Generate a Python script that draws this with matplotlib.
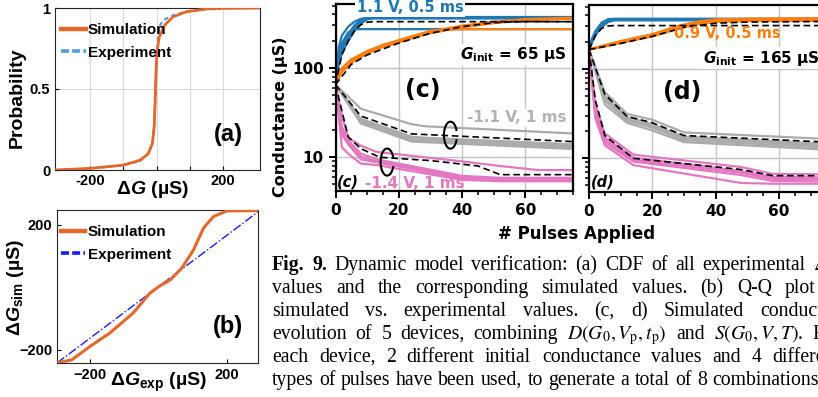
import matplotlib
matplotlib.use("Agg")
import matplotlib.pyplot as plt
from matplotlib.patches import Arc
from matplotlib.lines import Line2D
from matplotlib.ticker import MultipleLocator, LogLocator, NullFormatter, FixedLocator

# ---- (a) CDF of conductance changes ----
cdf_dg_sim = [-305, -200, -100, -50, -25, -12, -7, -4, -2, 1, 8, 25, 50, 90, 150, 210, 311]
cdf_p_sim = [0, 0.01, 0.03, 0.06, 0.10, 0.165, 0.27, 0.43, 0.58, 0.72, 0.82, 0.895, 0.946, 0.977, 0.994, 0.998, 1.0]
cdf_dg_exp = [-305, -200, -100, -50, -25, -12, -6, -3, -1, 2, 6, 12, 25, 50, 90, 150, 210, 311]
cdf_p_exp = [0, 0.008, 0.03, 0.055, 0.10, 0.17, 0.30, 0.45, 0.60, 0.75, 0.85, 0.90, 0.93, 0.955, 0.978, 0.994, 0.999, 1.0]

# ---- (b) Q-Q plot ----
qq_exp = [-296, -253, -200, -142, -74, -25, 4, 34, 68, 102, 131, 160, 199, 287]
qq_sim = [-242, -232, -189, -146, -82, -18, 5, 24, 62, 120, 190, 227, 245, 246]
ref_x = [-296, 290]
ref_y = [-242, 242]

# ---- (c) G_init = 65 uS ----
c_blue_x = [0, 1, 2, 4, 6, 8, 10, 12, 75]
c_blue_sim = [
    [65, 170, 230, 290, 330, 355, 365, 368, 368],
    [65, 120, 160, 220, 280, 330, 360, 365, 365],
    [65, 110, 145, 200, 260, 315, 350, 358, 358],
    [65, 140, 190, 250, 272, 272, 272, 272, 272],
    [65, 130, 175, 240, 300, 345, 370, 372, 372],
]
c_blue_exp_x = [0, 2, 4, 6, 8, 10, 12, 75]
c_blue_exp = [65, 140, 200, 260, 305, 325, 330, 330]

c_orange_x = [0, 2, 5, 10, 15, 20, 25, 30, 40, 50, 60, 75]
c_orange_sim = [
    [65, 100, 125, 155, 182, 205, 232, 257, 298, 330, 352, 365],
    [65, 95, 120, 150, 177, 198, 225, 250, 291, 323, 347, 361],
    [65, 90, 115, 145, 172, 193, 220, 245, 285, 318, 342, 358],
    [65, 98, 122, 152, 178, 200, 228, 262, 272, 272, 272, 272],
    [65, 93, 118, 148, 175, 196, 223, 248, 288, 320, 345, 360],
]
c_orange_exp_x = [0, 5, 10, 20, 30, 40, 50, 60, 75]
c_orange_exp = [65, 110, 140, 190, 245, 290, 322, 330, 330]

c_gray_x = [0, 8, 24, 28, 75]
c_gray_sim = [
    [65, 35, 23.5, 22.3, 18.5],
    [65, 27, 17.0, 16.6, 14.0],
    [65, 26, 16.3, 16.0, 13.4],
    [65, 25, 15.6, 15.3, 12.9],
    [65, 24, 15.0, 14.8, 12.4],
]
c_gray_exp_x = [0, 8, 24, 75]
c_gray_exp = [65, 29, 18.3, 15.0]

c_pink_x = [0, 2, 4, 8, 13, 40, 52, 64, 75]
c_pink_sim = [
    [65, 30, 16.5, 13.5, 11.5, 9.0, 8.0, 7.2, 7.2],
    [65, 22, 15.5, 11.0, 9.5, 6.2, 5.9, 5.9, 5.9],
    [65, 20, 14.5, 10.2, 9.0, 6.0, 5.7, 5.7, 5.7],
    [65, 18, 14.0, 9.5, 8.8, 5.8, 5.5, 5.5, 5.5],
    [65, 13, 11.0, 8.5, 8.2, 5.6, 5.4, 5.4, 5.4],
]
c_pink_exp_x = [0, 4, 8, 14, 30, 45, 52, 75]
c_pink_exp = [65, 17, 12.5, 10, 9.2, 8.0, 6.4, 6.4]

# ---- (d) G_init = 165 uS ----
d_blue_x = [0, 1, 2, 4, 6, 8, 75]
d_blue_sim = [
    [165, 220, 265, 330, 360, 365, 365],
    [165, 210, 250, 310, 350, 360, 360],
    [165, 205, 245, 300, 340, 355, 355],
    [165, 215, 255, 320, 352, 358, 358],
    [165, 200, 240, 295, 335, 350, 350],
]
d_blue_exp_x = [0, 2, 4, 6, 8, 75]
d_blue_exp = [165, 235, 285, 303, 306, 306]

d_orange_x = [0, 5, 10, 15, 20, 25, 30, 35, 40, 50, 75]
d_orange_sim = [
    [165, 185, 205, 225, 245, 280, 315, 342, 358, 366, 370],
    [165, 182, 200, 220, 240, 272, 306, 334, 350, 358, 362],
    [165, 180, 197, 216, 235, 266, 300, 328, 344, 352, 356],
    [165, 184, 203, 223, 243, 276, 311, 338, 354, 362, 366],
    [165, 179, 195, 213, 231, 261, 293, 320, 336, 344, 348],
]
d_orange_exp_x = [0, 10, 20, 30, 40, 50, 75]
d_orange_exp = [165, 193, 232, 292, 325, 335, 340]

d_gray_x = [0, 5, 12, 20, 30, 75]
d_gray_sim = [
    [165, 55, 31.5, 27.0, 19.5, 16.5],
    [165, 50, 29.0, 24.0, 17.5, 14.5],
    [165, 44, 26.5, 22.0, 16.0, 13.2],
    [165, 40, 25.0, 20.5, 15.2, 12.5],
    [165, 47, 27.5, 23.0, 16.8, 13.8],
]
d_gray_exp_x = [0, 5, 12, 20, 30, 75]
d_gray_exp = [165, 52, 29.5, 25.0, 18.0, 15.2]

d_pink_x = [0, 2, 5, 14, 48, 58, 75]
d_pink_sim = [
    [165, 40, 19, 11.0, 8.0, 6.7, 6.6],
    [165, 35, 17, 10.2, 7.2, 6.2, 6.1],
    [165, 32, 16, 9.6, 6.9, 5.9, 5.8],
    [165, 28, 14, 8.4, 5.3, 5.2, 5.2],
    [165, 30, 15, 9.2, 6.5, 5.6, 5.5],
]
d_pink_exp_x = [0, 2, 5, 14, 48, 58, 75]
d_pink_exp = [165, 45, 18, 10.0, 7.5, 6.4, 6.4]

# caption lines and the x pixel where the last word of each line starts
CAPTION = [
    ("Fig. 9. Dynamic model verification: (a) CDF of all experimental $\\Delta\\mathit{G}$", 813),
    ("values and the corresponding simulated values. (b) Q-Q plot", 785),
    ("simulated vs. experimental values. (c, d) Simulated conductance", 760),
    ("evolution of 5 devices, combining $D(G_0,V_\\mathrm{p},t_\\mathrm{p})$ and $S(G_0,V,T)$. For", 812),
    ("each device, 2 different initial conductance values and 4 different", 772),
    ("types of pulses have been used, to generate a total of 8 combinations", 712),
]

W, H = 818, 397
ORANGE_M = '#e5672a'
BLUE_C, ORANGE_C, GRAY_C, PINK_C = '#1f77b4', '#ff7f0e', '#ababab', '#e377c2'

plt.rcParams['mathtext.fontset'] = 'custom'
plt.rcParams['mathtext.rm'] = 'Liberation Sans:bold'
plt.rcParams['mathtext.bf'] = 'Liberation Sans:bold'
plt.rcParams['mathtext.it'] = 'Liberation Sans:italic:bold'
plt.rcParams['mathtext.bfit'] = 'Liberation Sans:italic:bold'

fig = plt.figure(figsize=(W / 100, H / 100), dpi=100)


def rect(l, t, r, b):
    return [l / W, 1 - b / H, (r - l) / W, (b - t) / H]


def ftext(x, y, s, **kw):
    return fig.text(x / W, 1 - y / H, s, **kw)


arial = dict(family='Liberation Sans', weight='bold')
dejavu = dict(family='DejaVu Sans', weight='bold')


def matlab_axes(ax):
    for sp in ax.spines.values():
        sp.set_linewidth(0.8)
        sp.set_color('#262626')
    ax.tick_params(direction='in', length=3, width=0.8, labelsize=10.5, top=False, right=False)
    for lab in ax.get_xticklabels() + ax.get_yticklabels():
        lab.set_fontfamily('Liberation Sans')
        lab.set_fontweight('bold')


# (a)
ax_a = fig.add_axes(rect(55, 8, 260, 170))
ax_a.plot(cdf_dg_sim, cdf_p_sim, color=ORANGE_M, lw=2.0, zorder=3)
ax_a.plot(cdf_dg_exp, cdf_p_exp, color='#4d9fdc', lw=1.6, ls=(0, (2, 1.5)), zorder=2)
ax_a.set_xlim(-305, 311)
ax_a.set_ylim(0, 1)
ax_a.set_xticks([-200, -100, 0, 100, 200])
ax_a.set_xticklabels(['-200', '', '', '', '200'])
ax_a.set_yticks([0, 0.5, 1])
ax_a.set_yticklabels(['0', '0.5', '1'])
ax_a.grid(True, color='#d9d9d9', lw=0.8)
matlab_axes(ax_a)
ax_a.tick_params(axis='x', pad=3)
handles = [Line2D([], [], color=ORANGE_M, lw=3.2),
           Line2D([], [], color='#4d9fdc', lw=2.6, ls=(0, (2.2, 0.9)))]
ax_a.legend(handles, ['Simulation', 'Experiment'], loc='upper left', bbox_to_anchor=(0.03, 0.905),
            frameon=False, borderaxespad=0, borderpad=0, handlelength=1.6, handletextpad=0.15,
            labelspacing=0.55, prop=dict(family='Liberation Sans', weight='bold', size=11))
ftext(228, 135, '(a)', fontsize=17, ha='center', va='center', **arial)
ftext(17, 98, 'Probability', fontsize=14, rotation=90, ha='center', va='center', **arial)
ftext(152, 189, r'$\Delta\mathit{G}$ (µS)', fontsize=14, ha='center', va='center', **arial)

# (b)
ax_b = fig.add_axes(rect(57, 210, 258, 363))
ax_b.plot(ref_x, ref_y, color='#1a1aff', lw=1.0, ls='-.', zorder=2)
ax_b.plot(qq_exp, qq_sim, color=ORANGE_M, lw=2.2, zorder=3)
ax_b.set_xlim(-296, 290)
ax_b.set_ylim(-242, 248)
ax_b.set_xticks([-200, 200])
ax_b.set_yticks([-200, 200])
matlab_axes(ax_b)
handles = [Line2D([], [], color=ORANGE_M, lw=3.2),
           Line2D([], [], color='#1a1aff', lw=2.6, ls=(0, (2.2, 0.9)))]
ax_b.legend(handles, ['Simulation', 'Experiment'], loc='upper left', bbox_to_anchor=(0.02, 0.9),
            frameon=False, borderaxespad=0, borderpad=0, handlelength=1.6, handletextpad=0.15,
            labelspacing=0.55, prop=dict(family='Liberation Sans', weight='bold', size=11))
ftext(228, 327, '(b)', fontsize=17, ha='center', va='center', **arial)
ftext(15, 288, r'$\Delta\mathit{G}_{\mathbf{sim}}$ (µS)', fontsize=14, rotation=90, ha='center', va='center', **arial)
ftext(158, 382, r'$\Delta\mathit{G}_{\mathbf{exp}}$ (µS)', fontsize=14, ha='center', va='center', **arial)


def pulse_axes(ax):
    ax.set_yscale('log')
    ax.set_xlim(0, 75)
    ax.set_ylim(4.2, 520)
    ax.xaxis.set_major_locator(FixedLocator([0, 20, 40, 60]))
    ax.xaxis.set_minor_locator(MultipleLocator(5))
    ax.yaxis.set_major_locator(FixedLocator([10, 100]))
    ax.yaxis.set_minor_locator(LogLocator(subs=range(2, 10)))
    ax.yaxis.set_minor_formatter(NullFormatter())
    ax.grid(True, which='major', color='#c4c4c4', lw=1.0, zorder=0)
    for sp in ax.spines.values():
        sp.set_linewidth(1.6)
        sp.set_color('black')
    ax.tick_params(which='major', direction='out', length=5, width=1.4, labelsize=11)
    ax.tick_params(which='minor', direction='out', length=3, width=1.1)
    for lab in ax.get_xticklabels() + ax.get_yticklabels():
        lab.set_fontweight('bold')


def bundle(ax, x, sims, ex_x, ex_y, color):
    for ys in sims:
        ax.plot(x, ys, color=color, lw=1.6, zorder=2)
    ax.plot(ex_x, ex_y, color='black', lw=1.2, ls=(0, (4, 2.2)), zorder=4)


ax_c = fig.add_axes(rect(335.5, 4, 573, 191))
bundle(ax_c, c_blue_x, c_blue_sim, c_blue_exp_x, c_blue_exp, BLUE_C)
bundle(ax_c, c_orange_x, c_orange_sim, c_orange_exp_x, c_orange_exp, ORANGE_C)
bundle(ax_c, c_gray_x, c_gray_sim, c_gray_exp_x, c_gray_exp, GRAY_C)
bundle(ax_c, c_pink_x, c_pink_sim, c_pink_exp_x, c_pink_exp, PINK_C)
pulse_axes(ax_c)
ax_c.set_yticklabels(['10', '100'])

ax_d = fig.add_axes(rect(589, 5, 826.5, 192))
bundle(ax_d, d_blue_x, d_blue_sim, d_blue_exp_x, d_blue_exp, BLUE_C)
bundle(ax_d, d_orange_x, d_orange_sim, d_orange_exp_x, d_orange_exp, ORANGE_C)
bundle(ax_d, d_gray_x, d_gray_sim, d_gray_exp_x, d_gray_exp, GRAY_C)
bundle(ax_d, d_pink_x, d_pink_sim, d_pink_exp_x, d_pink_exp, PINK_C)
pulse_axes(ax_d)
ax_d.set_yticklabels([])

# open ellipses marking the negative-pulse bundles
for px, py in [(36.3, 17.7), (16.3, 8.85)]:
    cx, cy = ax_c.transAxes.inverted().transform(ax_c.transData.transform((px, py)))
    ax_c.add_patch(Arc((cx, cy), 13 / 237.5, 27 / 187, theta1=40, theta2=320,
                       transform=ax_c.transAxes, color='black', lw=1.5, zorder=5))

white = dict(facecolor='white', edgecolor='none', pad=1.0)
ftext(410, 8, '1.1 V, 0.5 ms', color=BLUE_C, fontsize=10.5, ha='center', va='center', bbox=white, zorder=6, **dejavu)
ftext(460, 55, r'$\mathbfit{G}_{\mathbf{init}}$ = 65 µS', fontsize=11, ha='left', va='center',
      math_fontfamily='dejavusans', bbox=white, **dejavu)
ftext(423, 90, '(c)', fontsize=17, ha='center', va='center', **dejavu)
ftext(517, 118, '-1.1 V, 1 ms', color='#b3b3b3', fontsize=11, ha='center', va='center', bbox=white, **dejavu)
ftext(337, 182, '(c)', fontsize=10.5, style='italic', ha='left', va='center', **dejavu)
ftext(365, 183, '-1.4 V, 1 ms', color=PINK_C, fontsize=11, ha='left', va='center', **dejavu)

ftext(727, 34, '0.9 V, 0.5 ms', color=ORANGE_C, fontsize=10.5, ha='center', va='center', **dejavu)
ftext(703, 58, r'$\mathbfit{G}_{\mathbf{init}}$ = 165 µS', fontsize=11, ha='left', va='center',
      math_fontfamily='dejavusans', bbox=white, **dejavu)
ftext(682, 92, '(d)', fontsize=17, ha='center', va='center', **dejavu)
ftext(591, 182, '(d)', fontsize=10.5, style='italic', ha='left', va='center', **dejavu)

ftext(280, 117, 'Conductance (µS)', fontsize=11.5, rotation=90, ha='center', va='center', **dejavu)
ftext(577, 234, '# Pulses Applied', fontsize=12, ha='center', va='center', **dejavu)

# justified caption, one word at a time
renderer = fig.canvas.get_renderer()
x0 = 272
for i, (line, x_last) in enumerate(CAPTION):
    words = line.split(' ')
    objs = []
    for j, w in enumerate(words):
        bold = (i == 0 and j < 2)
        objs.append(fig.text(0, 0, w, family='Liberation Serif', fontsize=14.2,
                             weight='bold' if bold else 'normal', math_fontfamily='stix',
                             va='baseline', ha='left'))
    widths = [o.get_window_extent(renderer).width for o in objs]
    gap = (x_last - x0 - sum(widths[:-1])) / (len(objs) - 1)
    x = x0
    yb = 270 + 23 * i
    for o, wd in zip(objs, widths):
        o.set_position((x / W, 1 - yb / H))
        x += wd + gap

fig.savefig('out.png', dpi=100)
